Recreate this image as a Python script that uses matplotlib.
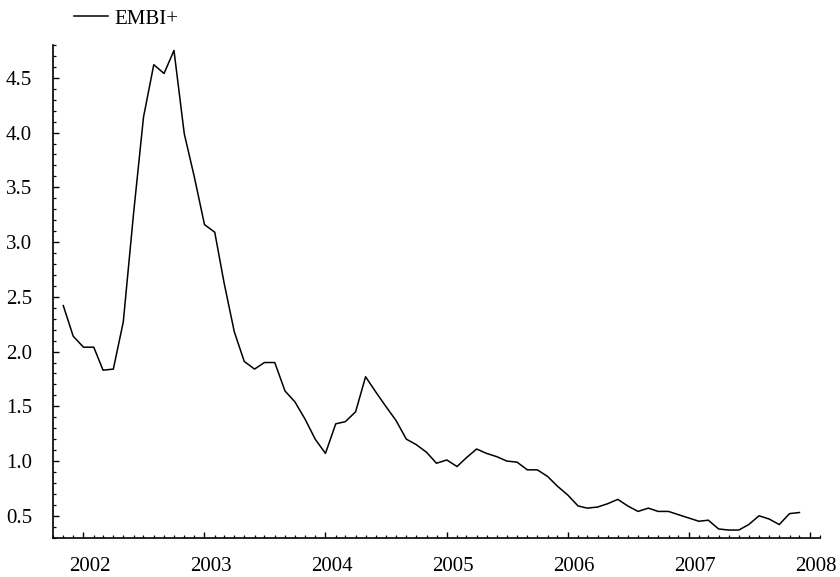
import matplotlib
matplotlib.use("Agg")
import matplotlib.pyplot as plt
import matplotlib.dates as mdates
import matplotlib.transforms as mtransforms
from matplotlib.ticker import MultipleLocator, FuncFormatter
import pandas as pd

# Monthly EMBI+ readings, Nov 2001 - Dec 2007
series_name = "EMBI+"
start_month = "2001-11-01"
embi = [
    2.42, 2.14,
    2.04, 2.04, 1.83, 1.84, 2.27, 3.26, 4.14, 4.62, 4.54, 4.75, 3.99, 3.60,
    3.16, 3.09, 2.63, 2.18, 1.91, 1.84, 1.90, 1.90, 1.64, 1.54, 1.38, 1.20,
    1.07, 1.34, 1.36, 1.45, 1.77, 1.63, 1.50, 1.37, 1.20, 1.15, 1.08, 0.98,
    1.01, 0.95, 1.03, 1.11, 1.07, 1.04, 1.00, 0.99, 0.92, 0.92, 0.86, 0.77,
    0.69, 0.59, 0.57, 0.58, 0.61, 0.65, 0.59, 0.54, 0.57, 0.54, 0.54, 0.51,
    0.48, 0.45, 0.46, 0.38, 0.37, 0.37, 0.42, 0.50, 0.47, 0.42, 0.52, 0.53,
]
year_ticks = [2002, 2003, 2004, 2005, 2006, 2007, 2008]
y_ticks = [0.5, 1.0, 1.5, 2.0, 2.5, 3.0, 3.5, 4.0, 4.5]

dates = pd.date_range(start_month, periods=len(embi), freq="MS")

plt.rcParams["font.family"] = ["Liberation Serif", "DejaVu Serif"]

fig = plt.figure(figsize=(8.4, 5.77), dpi=100)
ax = fig.add_axes([53 / 840, 1 - 537.7 / 577, (820 - 53) / 840, (537.7 - 45) / 577])

ax.plot(dates, embi, color="black", lw=1.1, label=series_name)

ax.set_xlim(pd.Timestamp("2001-10-01"), pd.Timestamp("2008-02-01"))
ax.set_ylim(0.30, 4.80)

for side in ("top", "right"):
    ax.spines[side].set_visible(False)
for side in ("left", "bottom"):
    ax.spines[side].set_linewidth(1.2)

ax.set_xticks([pd.Timestamp(f"{y}-01-01") for y in year_ticks])
ax.set_xticklabels([str(y) for y in year_ticks])
ax.xaxis.set_minor_locator(mdates.MonthLocator())

ax.set_yticks(y_ticks)
ax.yaxis.set_major_formatter(FuncFormatter(lambda v, p: f"{v:.1f}"))
ax.yaxis.set_minor_locator(MultipleLocator(0.1))

ax.tick_params(axis="both", which="major", direction="in", length=4.5, width=1.0,
               labelsize=15, colors="black")
ax.tick_params(axis="both", which="minor", direction="in", length=2.2, width=0.9)
ax.tick_params(axis="x", which="major", pad=14)
ax.tick_params(axis="y", which="major", pad=15)

# nudge year labels slightly to the right of their ticks
shift = mtransforms.ScaledTranslation(6 / 100, 0, fig.dpi_scale_trans)
for lab in ax.get_xticklabels():
    lab.set_transform(lab.get_transform() + shift)

fig.legend(loc="center left", bbox_to_anchor=(74 / 840, 1 - 19 / 577),
           frameon=False, borderpad=0, borderaxespad=0,
           handlelength=1.63, handletextpad=0.3, fontsize=15)

fig.savefig("out.png", dpi=100)
